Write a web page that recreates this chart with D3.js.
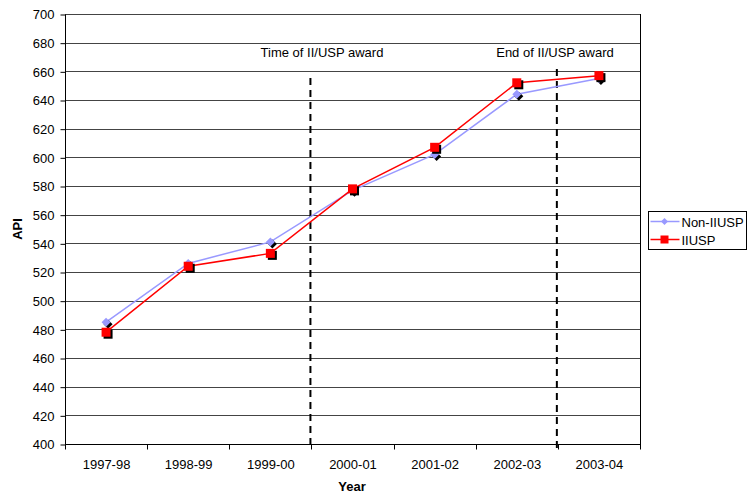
<!DOCTYPE html>
<html>
<head>
<meta charset="utf-8">
<script src="https://cdn.jsdelivr.net/npm/d3@7"></script>
<style>
  html, body { margin: 0; padding: 0; background: #fff; }
  svg { display: block; font-family: "Liberation Sans", Arial, sans-serif; }
</style>
</head>
<body>
<svg id="chart" width="748" height="498"></svg>
<script>
// School years on the x axis
const years = ["1997-98", "1998-99", "1999-00", "2000-01", "2001-02", "2002-03", "2003-04"];
// Mean API per year for each group of schools
const nonIIUSP = [485, 526, 541, 577, 602, 644, 655];
const iiusp = [478, 524, 533, 578, 607, 652, 657];
// Y axis ticks
const yTicks = d3.range(400, 701, 20);
// Vertical markers drawn on the boundary after a given year
const eventAfter = ["1999-00", "2002-03"];
const eventLabels = ["Time of II/USP award", "End of II/USP award"];

const FS = 13;
const svg = d3.select("#chart");
const mLeft = 65, mRight = 640, mTop = 14, mBottom = 444;

const x = d3.scaleBand().domain(years).range([mLeft, mRight]);
const y = d3.scaleLinear().domain([400, 700]).range([mBottom, mTop]);

// Horizontal gridlines
svg.append("g").selectAll("line").data(yTicks).join("line")
  .attr("x1", mLeft).attr("x2", mRight)
  .attr("y1", d => Math.round(y(d)) + 0.5).attr("y2", d => Math.round(y(d)) + 0.5)
  .attr("stroke", "#444").attr("stroke-width", 1);

// Right border of the plot area
svg.append("line")
  .attr("x1", mRight + 0.5).attr("x2", mRight + 0.5)
  .attr("y1", mTop).attr("y2", mBottom + 5)
  .attr("stroke", "#000");

// Y axis
const yAxis = svg.append("g")
  .attr("transform", `translate(${mLeft + 0.5},0.5)`)
  .call(d3.axisLeft(y).tickValues(yTicks).tickSize(5).tickPadding(6));
yAxis.select(".domain").attr("stroke", "#000").attr("d", `M0,${mTop}V${mBottom}`);
yAxis.selectAll("text").attr("font-size", FS).attr("fill", "#000")
  .attr("font-family", "Liberation Sans, Arial, sans-serif");

// X axis with ticks on category boundaries
const xAxis = svg.append("g").attr("transform", `translate(0.5,${mBottom + 0.5})`);
xAxis.append("line").attr("x1", mLeft).attr("x2", mRight).attr("stroke", "#000");
const bounds = years.map(d => x(d)).concat([mRight]);
xAxis.selectAll(".tk").data(bounds).join("line").attr("class", "tk")
  .attr("x1", d => Math.round(d)).attr("x2", d => Math.round(d)).attr("y1", 0).attr("y2", 5)
  .attr("stroke", "#000");
xAxis.selectAll("text").data(years).join("text")
  .attr("x", d => x(d) + x.bandwidth() / 2).attr("y", 24)
  .attr("text-anchor", "middle").attr("font-size", FS).attr("fill", "#000")
  .text(d => d);

// Axis titles
svg.append("text").attr("x", 352).attr("y", 491).attr("text-anchor", "middle")
  .attr("font-size", FS).attr("font-weight", "bold").text("Year");
svg.append("text").attr("transform", "translate(22,229) rotate(-90)")
  .attr("text-anchor", "middle").attr("font-size", FS).attr("font-weight", "bold").text("API");

// Event markers
const evTopY = [78, 69];
const evLabelX = [322, 555];
eventAfter.forEach((e, i) => {
  const ex = x(e) + x.bandwidth() - 1;
  svg.append("line")
    .attr("x1", ex).attr("x2", ex).attr("y1", evTopY[i]).attr("y2", mBottom + 5)
    .attr("stroke", "#000").attr("stroke-width", 2).attr("stroke-dasharray", "7,5");
  svg.append("text").attr("x", evLabelX[i]).attr("y", 57)
    .attr("text-anchor", "middle").attr("font-size", FS).text(eventLabels[i]);
});

const cx = d => x(d) + x.bandwidth() / 2;
const line = d3.line().x((d, i) => cx(years[i])).y(d => y(d));

// Series lines
svg.append("path").datum(nonIIUSP).attr("d", line)
  .attr("fill", "none").attr("stroke", "#9999FF").attr("stroke-width", 1.5);
svg.append("path").datum(iiusp).attr("d", line)
  .attr("fill", "none").attr("stroke", "#FF0000").attr("stroke-width", 1.5);

// Diamond markers with shadow
const dia = s => `M0,${-s}L${s},0L0,${s}L${-s},0Z`;
const g1 = svg.append("g");
nonIIUSP.forEach((v, i) => {
  const px = cx(years[i]), py = y(v);
  g1.append("path").attr("d", dia(4.5)).attr("transform", `translate(${px + 2},${py + 2})`).attr("fill", "#000");
  g1.append("path").attr("d", dia(4.5)).attr("transform", `translate(${px},${py})`).attr("fill", "#9999FF");
});

// Square markers with shadow
const g2 = svg.append("g");
iiusp.forEach((v, i) => {
  const px = cx(years[i]), py = y(v);
  g2.append("rect").attr("x", px - 4.5 + 2).attr("y", py - 4.5 + 2).attr("width", 9).attr("height", 9).attr("fill", "#000");
  g2.append("rect").attr("x", px - 4.5).attr("y", py - 4.5).attr("width", 9).attr("height", 9).attr("fill", "#FF0000");
});

// Legend
const lg = svg.append("g").attr("transform", "translate(648.5,211.5)");
lg.append("rect").attr("width", 98).attr("height", 38).attr("fill", "#fff").attr("stroke", "#000");
const names = ["Non-IIUSP", "IIUSP"];
const colors = ["#9999FF", "#FF0000"];
names.forEach((name, i) => {
  const ly = 10 + i * 18;
  lg.append("line").attr("x1", 2).attr("x2", 31).attr("y1", ly).attr("y2", ly)
    .attr("stroke", colors[i]).attr("stroke-width", 1.5);
  if (i === 0) {
    lg.append("path").attr("d", dia(3.5)).attr("transform", `translate(16,${ly})`).attr("fill", colors[i]);
  } else {
    lg.append("rect").attr("x", 12).attr("y", ly - 4).attr("width", 8).attr("height", 8).attr("fill", colors[i]);
  }
  lg.append("text").attr("x", 33).attr("y", ly + 5).attr("font-size", FS).text(name);
});
</script>
</body>
</html>
